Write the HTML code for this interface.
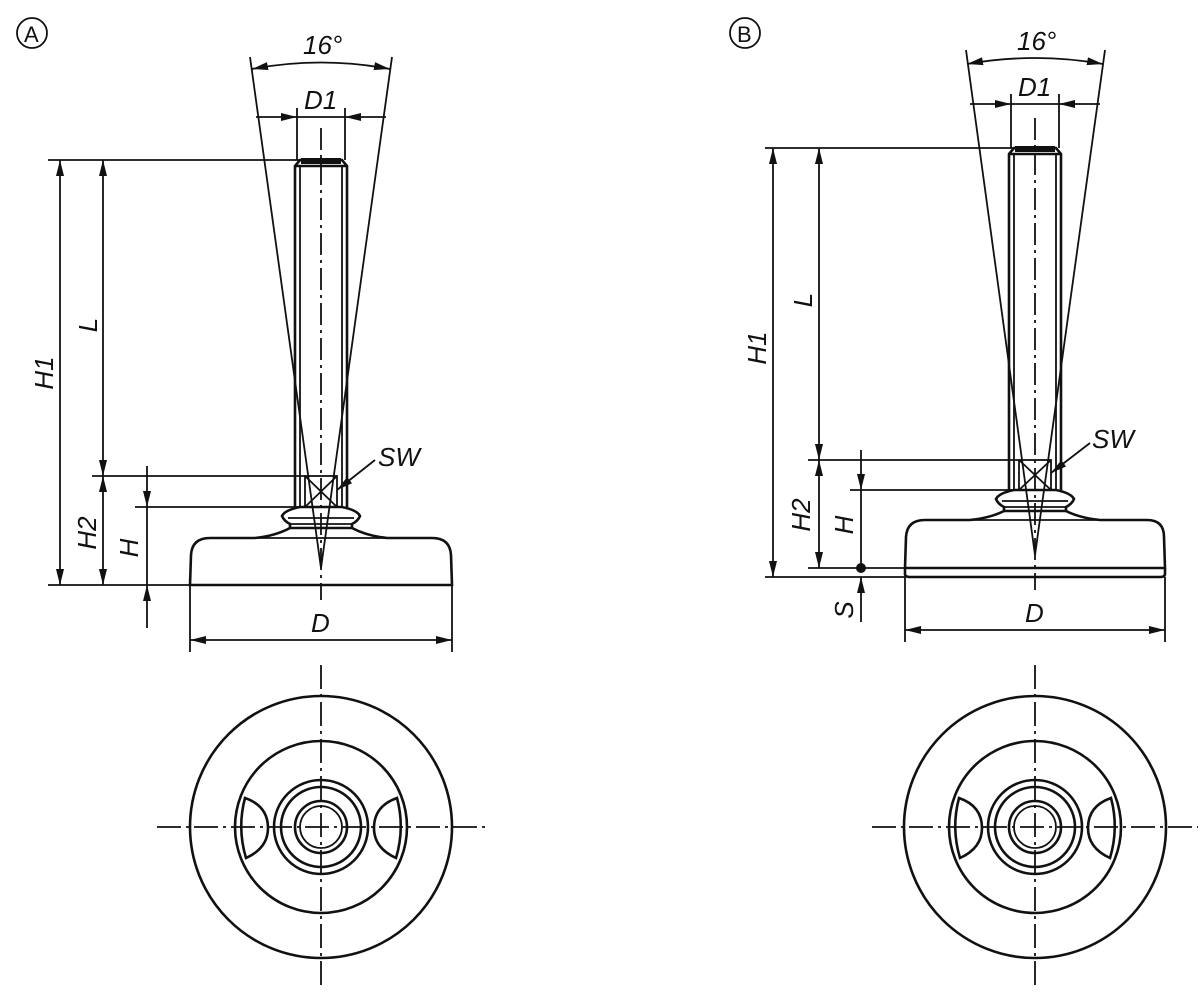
<!DOCTYPE html>
<html><head><meta charset="utf-8"><style>
html,body{margin:0;padding:0;background:#fff;}
svg{display:block}
text{font-family:"Liberation Sans",sans-serif;font-style:italic;font-size:26px;fill:#111}
</style></head><body>
<svg width="1200" height="996" viewBox="0 0 1200 996" xmlns="http://www.w3.org/2000/svg">
<defs>
<marker id="a" markerWidth="18" markerHeight="9" refX="16" refY="4" orient="auto-start-reverse" markerUnits="userSpaceOnUse" viewBox="0 0 18 9">
<path d="M0,0 L16,4 L0,8 z" fill="#111"/></marker>
</defs>
<g stroke="#111" fill="none" stroke-width="1.8">
<!-- ===== A ===== -->
<circle cx="32" cy="33" r="15"/>
<g stroke-width="2.6">
<path d="M295,507 L295,166 L300,160 L342,160 L347,166 L347,507"/>
<line x1="300" y1="166" x2="300" y2="507" stroke-width="1.8"/>
<line x1="342" y1="166" x2="342" y2="507" stroke-width="1.8"/>
<line x1="295" y1="166" x2="347" y2="166"/>
</g>
<rect x="301" y="158" width="40" height="6" fill="#111" stroke="none"/>
<rect x="305" y="476" width="32" height="31"/>
<line x1="305" y1="476" x2="337" y2="507"/><line x1="337" y1="476" x2="305" y2="507"/>
<g stroke-width="2.6">
<path d="M300,507 Q285,510 282,516 Q284,521 290,524 L290,528 L352,528 L352,524 Q358,521 360,516 Q357,510 342,507 Z"/>
<line x1="288" y1="518" x2="354" y2="518" stroke-width="1.8"/>
<line x1="290" y1="524" x2="352" y2="524" stroke-width="1.8"/>
<path d="M290,528 Q275,536 255,538 L210,538 Q192,538 191,555 L190,585 L452,585 L451,555 Q450,538 432,538 L387,538 Q367,536 352,528"/>
<line x1="255" y1="538" x2="387" y2="538" stroke-width="1.8"/>
</g>
<line x1="250" y1="57" x2="321" y2="568"/>
<line x1="392" y1="57" x2="321" y2="568"/>
<line x1="321" y1="128" x2="321" y2="600" stroke-dasharray="22,5,3,5"/>
<line x1="48" y1="160" x2="300" y2="160"/>
<line x1="92" y1="476" x2="305" y2="476"/>
<line x1="135" y1="507" x2="305" y2="507"/>
<line x1="48" y1="585" x2="190" y2="585"/>
<line x1="190" y1="585" x2="190" y2="652"/>
<line x1="452" y1="585" x2="452" y2="652"/>
<line x1="297" y1="108" x2="297" y2="160"/>
<line x1="345" y1="108" x2="345" y2="160"/>
<line x1="60" y1="160" x2="60" y2="585" marker-start="url(#a)" marker-end="url(#a)"/>
<line x1="103" y1="160" x2="103" y2="476" marker-start="url(#a)" marker-end="url(#a)"/>
<line x1="103" y1="476" x2="103" y2="585" marker-start="url(#a)" marker-end="url(#a)"/>
<line x1="147" y1="466" x2="147" y2="507" marker-end="url(#a)"/>
<line x1="147" y1="507" x2="147" y2="585"/>
<line x1="147" y1="628" x2="147" y2="585" marker-end="url(#a)"/>
<line x1="190" y1="640" x2="452" y2="640" marker-start="url(#a)" marker-end="url(#a)"/>
<line x1="256" y1="117" x2="297" y2="117" marker-end="url(#a)"/>
<line x1="386" y1="117" x2="345" y2="117" marker-end="url(#a)"/>
<line x1="297" y1="117" x2="345" y2="117"/>
<path d="M252,69 Q321,56 390,69" marker-start="url(#a)" marker-end="url(#a)"/>
<line x1="375" y1="460" x2="337" y2="490" marker-end="url(#a)"/>
<g stroke-width="2.6">
<circle cx="321" cy="827" r="131"/>
<circle cx="321" cy="827" r="86"/>
<circle cx="321" cy="827" r="47"/>
<circle cx="321" cy="827" r="40"/>
<circle cx="321" cy="827" r="26"/>
<circle cx="321" cy="827" r="21" stroke-width="1.8"/>
<path d="M245,798 Q268,806 268,828 Q268,848 246,858 Q237,828 245,798 Z"/>
<path d="M397,798 Q374,806 374,828 Q374,848 396,858 Q405,828 397,798 Z"/>
</g>
<line x1="157" y1="827" x2="485" y2="827" stroke-dasharray="24,5,3,5"/>
<line x1="321" y1="665" x2="321" y2="990" stroke-dasharray="24,5,3,5"/>

<!-- ===== B ===== -->
<circle cx="745" cy="33" r="15"/>
<g stroke-width="2.6">
<path d="M1009,490 L1009,154 L1014,148 L1056,148 L1061,154 L1061,490"/>
<line x1="1014" y1="154" x2="1014" y2="490" stroke-width="1.8"/>
<line x1="1056" y1="154" x2="1056" y2="490" stroke-width="1.8"/>
<line x1="1009" y1="154" x2="1061" y2="154"/>
</g>
<rect x="1015" y="146" width="40" height="6" fill="#111" stroke="none"/>
<rect x="1019" y="460" width="32" height="30"/>
<line x1="1019" y1="460" x2="1051" y2="490"/><line x1="1051" y1="460" x2="1019" y2="490"/>
<g stroke-width="2.6">
<path d="M1014,490 Q999,493 996,499 Q998,504 1004,507 L1004,511 L1066,511 L1066,507 Q1072,504 1074,499 Q1071,493 1056,490 Z"/>
<line x1="1002" y1="501" x2="1068" y2="501" stroke-width="1.8"/>
<line x1="1004" y1="507" x2="1066" y2="507" stroke-width="1.8"/>
<path d="M1004,511 Q990,518 970,520 L925,520 Q907,520 906,537 L905,568 L1165,568 L1164,537 Q1164,520 1147,520 L1100,520 Q1080,518 1066,511"/>
<line x1="970" y1="520" x2="1100" y2="520" stroke-width="1.8"/>
<path d="M905,568 L905,574 Q905,577 910,577 L1160,577 Q1165,577 1165,574 L1165,568"/>
</g>
<line x1="966" y1="50" x2="1035" y2="555"/>
<line x1="1105" y1="50" x2="1035" y2="555"/>
<line x1="1035" y1="118" x2="1035" y2="590" stroke-dasharray="22,5,3,5"/>
<line x1="765" y1="148" x2="1014" y2="148"/>
<line x1="808" y1="460" x2="1019" y2="460"/>
<line x1="850" y1="490" x2="1019" y2="490"/>
<line x1="808" y1="568" x2="905" y2="568"/>
<line x1="765" y1="577" x2="905" y2="577"/>
<line x1="905" y1="577" x2="905" y2="642"/>
<line x1="1165" y1="577" x2="1165" y2="642"/>
<line x1="1011" y1="94" x2="1011" y2="148"/>
<line x1="1059" y1="94" x2="1059" y2="148"/>
<line x1="773" y1="148" x2="773" y2="577" marker-start="url(#a)" marker-end="url(#a)"/>
<line x1="819" y1="148" x2="819" y2="460" marker-start="url(#a)" marker-end="url(#a)"/>
<line x1="819" y1="460" x2="819" y2="568" marker-start="url(#a)" marker-end="url(#a)"/>
<line x1="861" y1="450" x2="861" y2="490" marker-end="url(#a)"/>
<line x1="861" y1="490" x2="861" y2="568"/>
<line x1="861" y1="622" x2="861" y2="577" marker-end="url(#a)"/>
<circle cx="861" cy="568" r="5" fill="#111" stroke="none"/>
<line x1="905" y1="630" x2="1165" y2="630" marker-start="url(#a)" marker-end="url(#a)"/>
<line x1="970" y1="104" x2="1011" y2="104" marker-end="url(#a)"/>
<line x1="1100" y1="104" x2="1059" y2="104" marker-end="url(#a)"/>
<line x1="1011" y1="104" x2="1059" y2="104"/>
<path d="M967,64 Q1035,52 1103,64" marker-start="url(#a)" marker-end="url(#a)"/>
<line x1="1090" y1="443" x2="1051" y2="473" marker-end="url(#a)"/>
<g stroke-width="2.6">
<circle cx="1035" cy="827" r="131"/>
<circle cx="1035" cy="827" r="86"/>
<circle cx="1035" cy="827" r="47"/>
<circle cx="1035" cy="827" r="40"/>
<circle cx="1035" cy="827" r="26"/>
<circle cx="1035" cy="827" r="21" stroke-width="1.8"/>
<path d="M959,798 Q982,806 982,828 Q982,848 960,858 Q951,828 959,798 Z"/>
<path d="M1111,798 Q1088,806 1088,828 Q1088,848 1110,858 Q1119,828 1111,798 Z"/>
</g>
<line x1="872" y1="827" x2="1198" y2="827" stroke-dasharray="24,5,3,5"/>
<line x1="1035" y1="665" x2="1035" y2="990" stroke-dasharray="24,5,3,5"/>
</g>
<g>
<text x="24" y="42" style="font-style:normal;font-size:22px">A</text>
<text x="737" y="42" style="font-style:normal;font-size:22px">B</text>
<text x="303" y="54">16°</text>
<text x="304" y="109">D1</text>
<text x="378" y="466">SW</text>
<text x="311" y="632">D</text>
<text x="1017" y="50">16°</text>
<text x="1018" y="96">D1</text>
<text x="1092" y="448">SW</text>
<text x="1025" y="622">D</text>
<text transform="translate(53,373) rotate(-90)" text-anchor="middle">H1</text>
<text transform="translate(97,325) rotate(-90)" text-anchor="middle">L</text>
<text transform="translate(96,533) rotate(-90)" text-anchor="middle">H2</text>
<text transform="translate(138,548) rotate(-90)" text-anchor="middle">H</text>
<text transform="translate(766,348) rotate(-90)" text-anchor="middle">H1</text>
<text transform="translate(812,300) rotate(-90)" text-anchor="middle">L</text>
<text transform="translate(810,515) rotate(-90)" text-anchor="middle">H2</text>
<text transform="translate(853,525) rotate(-90)" text-anchor="middle">H</text>
<text transform="translate(853,610) rotate(-90)" text-anchor="middle">S</text>
</g>
</svg>
</body></html>
